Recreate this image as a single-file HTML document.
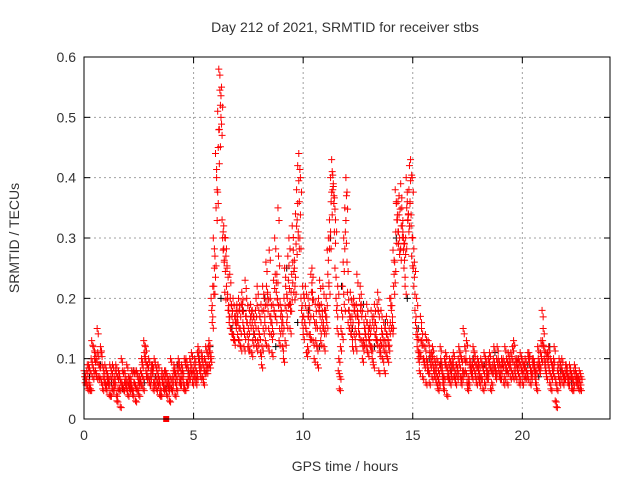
<!DOCTYPE html>
<html><head><meta charset="utf-8"><style>
body{margin:0;background:#fff}
svg{display:block;font-family:"Liberation Sans",sans-serif}
</style></head><body>
<svg id="chart" width="640" height="480" viewBox="0 0 640 480" xmlns="http://www.w3.org/2000/svg">
<rect width="640" height="480" fill="#fff"/>
<text x="345" y="32" font-size="14" text-anchor="middle" fill="#333">Day 212 of 2021, SRMTID for receiver stbs</text>
<text transform="translate(19,238) rotate(-90)" font-size="14" text-anchor="middle" fill="#333">SRMTID / TECUs</text>
<text x="345" y="471" font-size="14" text-anchor="middle" fill="#333">GPS time / hours</text>
<g id="grid"></g>
<g id="marks"></g>
<rect x="84" y="57" width="526" height="362" fill="none" stroke="#000" stroke-width="1"/>
<g id="ticks"></g>
</svg>
<script>
const xTicks=[0,5,10,15,20];
const yTicks=[0,0.1,0.2,0.3,0.4,0.5,0.6];
const yTickLabels=["0","0.1","0.2","0.3","0.4","0.5","0.6"];
const stepA=0.1, startA=0.0;
const seriesA=[
.08,.06,.09,.05,.07,.11,.15,.09,.06,.08,
.05,.07,.04,.09,.06,.03,.07,.10,.05,.06,
.04,.07,.05,.06,.08,.04,.06,.05,.12,.09,
.06,.08,.10,.05,.07,.04,.06,.05,.07,.03,
.05,.09,.07,.10,.06,.08,.05,.09,.07,.11,
.08,.06,.12,.09,.07,.10,.08,.13,.20,.30,
.44,.51,.57,.33,.26,.22,.18,.15,.20,.16,
.14,.18,.21,.12,.17,.15,.19,.13,.16,.22,
.14,.09,.18,.26,.12,.20,.15,.30,.24,.13,
.18,.10,.22,.27,.15,.32,.25,.38,.44,.20,
.14,.22,.12,.18,.25,.10,.16,.20,.13,.22,
.15,.28,.33,.43,.37,.20,.08,.12,.22,.35,
.26,.18,.14,.20,.12,.17,.22,.10,.15,.19,
.13,.18,.09,.16,.21,.11,.14,.08,.17,.12,
.20,.28,.38,.33,.30,.35,.25,.40,.34,.43,
.30,.18,.12,.08,.15,.10,.06,.13,.09,.12,
.07,.10,.06,.09,.05,.11,.08,.06,.10,.07,
.09,.12,.06,.15,.08,.05,.10,.07,.11,.06,
.08,.10,.05,.09,.07,.11,.06,.12,.08,.10,
.07,.09,.12,.06,.10,.08,.13,.07,.09,.11,
.06,.09,.08,.11,.07,.10,.06,.12,.09,.18,
.10,.07,.12,.05,.09,.03,.08,.06,.10,.07,
.09,.06,.08,.05,.07,.06,.08];
const stepB=0.1, startB=0.05;
const seriesB=[
.06,.09,.05,.13,.08,.10,.07,.12,.05,.09,
.07,.04,.08,.06,.09,.05,.02,.08,.06,.09,
.06,.05,.08,.03,.07,.06,.09,.11,.07,.10,
.08,.05,.09,.06,.04,.08,.07,.06,.05,.10,
.07,.04,.08,.06,.09,.05,.10,.07,.08,.06,
.10,.07,.09,.11,.06,.12,.09,.11,.16,.25,
.40,.58,.50,.28,.30,.20,.24,.17,.13,.18,
.20,.12,.16,.23,.14,.18,.11,.17,.20,.15,
.11,.22,.16,.19,.28,.14,.23,.17,.35,.19,
.12,.25,.16,.30,.21,.28,.34,.42,.30,.16,
.20,.11,.17,.24,.13,.19,.09,.23,.16,.12,
.20,.30,.40,.38,.25,.15,.05,.18,.30,.40,
.16,.21,.12,.18,.24,.14,.19,.13,.17,.11,
.16,.10,.19,.13,.08,.18,.12,.15,.10,.20,
.15,.24,.36,.29,.39,.31,.22,.36,.42,.27,
.22,.14,.10,.17,.07,.12,.09,.06,.11,.08,
.09,.05,.12,.07,.10,.04,.09,.07,.11,.06,
.08,.11,.07,.10,.13,.06,.09,.12,.07,.10,
.06,.09,.11,.07,.10,.05,.09,.08,.12,.07,
.10,.06,.08,.11,.07,.12,.09,.10,.06,.08,
.09,.07,.11,.06,.10,.08,.05,.09,.13,.15,
.08,.11,.06,.09,.12,.02,.07,.09,.06,.08,
.07,.09,.05,.08,.06,.07,.05];
const stepC=0.1, startC=0.025;
const seriesC=[
.07,.08,.06,.10,.12,.08,.11,.07,.09,.06,
.08,.06,.07,.05,.08,.07,.05,.06,.08,.05,
.07,.06,.04,.08,.05,.07,.10,.13,.08,.07,
.07,.09,.06,.08,.06,.07,.05,.08,.06,.07,
.06,.08,.05,.09,.08,.06,.09,.06,.10,.08,
.09,.08,.10,.07,.09,.08,.11,.09,.18,.22,
.35,.45,.52,.30,.21,.25,.16,.19,.14,.17,
.16,.15,.19,.14,.20,.12,.17,.15,.18,.13,
.17,.12,.20,.22,.15,.17,.19,.24,.20,.15,
.15,.20,.18,.23,.19,.26,.22,.33,.36,.18,
.17,.15,.20,.14,.21,.16,.12,.18,.19,.15,
.18,.24,.30,.41,.31,.18,.10,.15,.26,.31,
.21,.15,.17,.14,.19,.15,.18,.12,.14,.16,
.15,.12,.17,.14,.18,.13,.10,.13,.14,.15,
.18,.22,.31,.36,.28,.32,.29,.35,.38,.32,
.25,.16,.14,.11,.13,.09,.10,.08,.10,.09,
.08,.07,.09,.08,.07,.09,.07,.08,.09,.08,
.07,.09,.10,.08,.10,.07,.08,.09,.08,.09,
.09,.07,.08,.10,.08,.09,.08,.09,.10,.08,
.08,.10,.09,.08,.09,.10,.08,.09,.10,.09,
.08,.10,.07,.09,.08,.09,.08,.10,.11,.13,
.09,.10,.08,.07,.10,.06,.09,.07,.08,.07,
.08,.07,.07,.06,.08,.07,.06];
const stepD=0.1, startD=0.075;
const seriesD=[
.07,.05,.08,.09,.10,.07,.09,.11,.07,.06,
.06,.09,.05,.07,.04,.08,.06,.05,.07,.06,
.05,.08,.06,.05,.06,.08,.07,.10,.09,.06,
.09,.06,.07,.09,.05,.06,.08,.04,.06,.05,
.08,.06,.09,.07,.07,.10,.06,.08,.09,.07,
.07,.11,.08,.10,.08,.09,.12,.10,.22,.27,
.38,.48,.55,.32,.27,.18,.20,.14,.17,.19,
.13,.19,.15,.17,.12,.16,.18,.14,.12,.18,
.19,.15,.13,.21,.17,.11,.18,.21,.27,.17,
.16,.13,.20,.19,.24,.21,.29,.30,.40,.22,
.16,.18,.14,.21,.17,.13,.19,.15,.17,.18,
.16,.22,.36,.39,.33,.22,.07,.14,.19,.37,
.18,.16,.19,.15,.17,.20,.13,.16,.12,.14,
.12,.16,.14,.19,.12,.15,.16,.11,.13,.16,
.16,.26,.33,.37,.32,.28,.30,.33,.36,.40,
.26,.20,.11,.13,.10,.14,.08,.11,.07,.10,
.06,.08,.10,.06,.09,.07,.10,.09,.07,.09,
.10,.07,.08,.12,.06,.09,.08,.10,.09,.07,
.07,.09,.06,.08,.09,.08,.10,.07,.09,.09,
.09,.07,.10,.09,.11,.07,.10,.08,.07,.10,
.07,.08,.10,.08,.09,.07,.09,.08,.10,.12,
.11,.09,.10,.08,.07,.05,.10,.08,.07,.09,
.06,.08,.07,.09,.07,.05,.07];
const stepK=0.5, startK=0.25;
const seriesK=[.07,.09,.06,.05,.08,.06,.07,.05,.09,.08,.10,.12,.20,.15,.18,.14,.20,.12,.25,.16,.18,.12,.30,.22,.15,.19,.12,.16,.30,.20,.15,.10,.09,.08,.07,.10,.09,.11,.08,.10,.09,.07,.12,.08,.06];
const squareX=[3.75], squareY=[0];

const NS="http://www.w3.org/2000/svg";
const X0=84,X1=610,Y0=419,Y1=57,XMAX=24,YMAX=0.6;
const xs=v=>X0+(X1-X0)*v/XMAX;
const ys=v=>Y0-(Y0-Y1)*v/YMAX;
function mk(tag,attrs,parent){const e=document.createElementNS(NS,tag);for(const k in attrs)e.setAttribute(k,attrs[k]);parent.appendChild(e);return e;}
const grid=document.getElementById('grid'),ticks=document.getElementById('ticks'),marks=document.getElementById('marks');
xTicks.forEach(t=>{
  const x=xs(t);
  if(t>0){const g=mk('line',{x1:x,y1:Y0,x2:x,y2:Y1,stroke:'#a0a0a0','stroke-dasharray':'2,3'},grid);
  
  }
  mk('line',{x1:x,y1:Y0,x2:x,y2:Y0-6,stroke:'#000'},ticks);
  mk('line',{x1:x,y1:Y1,x2:x,y2:Y1+6,stroke:'#000'},ticks);
  const l=mk('text',{x:x,y:Y0+21,'font-size':14,'text-anchor':'middle',fill:'#333'},ticks);
  l.textContent=String(t);
  
  
});
yTicks.forEach((t,i)=>{
  const y=ys(t);
  if(t>0&&t<YMAX){const g=mk('line',{x1:X0,y1:y,x2:X1,y2:y,stroke:'#a0a0a0','stroke-dasharray':'2,3'},grid);
  
  }
  mk('line',{x1:X0,y1:y,x2:X0+6,y2:y,stroke:'#000'},ticks);
  mk('line',{x1:X1,y1:y,x2:X1-6,y2:y,stroke:'#000'},ticks);
  const l=mk('text',{x:X0-8,y:y+5,'font-size':14,'text-anchor':'end',fill:'#333'},ticks);
  l.textContent=yTickLabels[i];
  
  
});
function cross(xv,yv,color,name){
  const x=xs(xv),y=ys(yv);
  const p=mk('path',{d:`M${x-3.5},${y}h7M${x},${y-3.5}v7`,stroke:color,'stroke-width':1,fill:'none'},marks);
  
  
}
seriesK.forEach((v,i)=>cross(startK+i*stepK,v,'#000','point-black'));
[[seriesA,startA,stepA],[seriesB,startB,stepB],[seriesC,startC,stepC],[seriesD,startD,stepD]].forEach(([s,st,sp])=>{
  s.forEach((v,i)=>{
    cross(st+i*sp,v,'#f00','point-red');
    cross(st+i*sp+0.05,v*0.94,'#f00','point-red');
  });
});
squareX.forEach((v,i)=>{
  const s=mk('rect',{x:xs(v)-3,y:ys(squareY[i])-3,width:6,height:6,fill:'#f00'},marks);
  
  
});
</script>
</body></html>
